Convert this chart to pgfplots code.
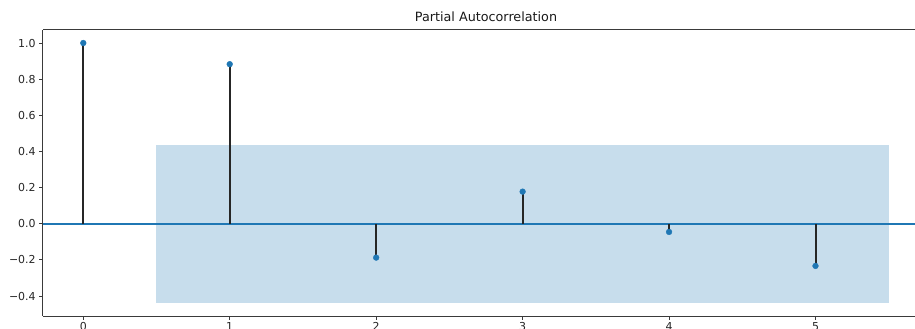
\documentclass[border=0pt]{standalone}
\usepackage{pgfplots}
\pgfplotsset{compat=1.18}
\usepackage{fontspec}
\setmainfont{DejaVu Sans}
\usetikzlibrary{calc}
\definecolor{c0}{HTML}{1F77B4}
\definecolor{spine}{HTML}{3A3A3A}
\begin{document}
\fontsize{11}{13}\selectfont
\begin{tikzpicture}
\begin{axis}[
  scale only axis,
  width=886bp, height=286bp,
  xmin=-0.275, xmax=5.775,
  ymin=-0.51, ymax=1.072,
  axis x line*=box, axis y line*=left,
  xtick pos=left, ytick pos=left,
  axis line style={spine, line width=1bp},
  tick align=outside, major tick length=3.5bp,
  tick style={spine, line width=1bp},
  xtick={0,1,2,3,4,5},
  ytick={-0.4,-0.2,0,0.2,0.4,0.6,0.8,1.0},
  yticklabels={−0.4,−0.2,0.0,0.2,0.4,0.6,0.8,1.0},
  /pgf/number format/assume math mode=true,
  ticklabel style={font=\fontsize{11}{13}\selectfont, text=black!85},
  xticklabel style={yshift=1bp},
  title={Partial Autocorrelation},
  title style={font=\fontsize{12.8}{15}\selectfont, text=black!90, at={(0.5,1)}, anchor=south, yshift=-2bp},
  clip=true,
]
\addplot[draw=none, fill=c0, fill opacity=0.25] coordinates {(0.5,-0.438) (5.5,-0.438) (5.5,0.438) (0.5,0.438)} -- cycle;
\addplot[c0, line width=1.6bp] coordinates {(-0.275,0) (5.775,0)};
\addplot[ycomb, draw=black!85, line width=2bp, mark=none] coordinates {
(0,1.0) (1,0.883) (2,-0.187) (3,0.178) (4,-0.045) (5,-0.233)};
\addplot[only marks, mark=*, mark size=2.9bp, mark options={fill=c0, draw=c0}] coordinates {
(0,1.0) (1,0.883) (2,-0.187) (3,0.178) (4,-0.045) (5,-0.233)};
\end{axis}
\pgfresetboundingbox
\path[use as bounding box] ($(current axis.south west)+(-43bp,-13bp)$) rectangle ($(current axis.south west)+(872bp,316bp)$);
\end{tikzpicture}
\end{document}
